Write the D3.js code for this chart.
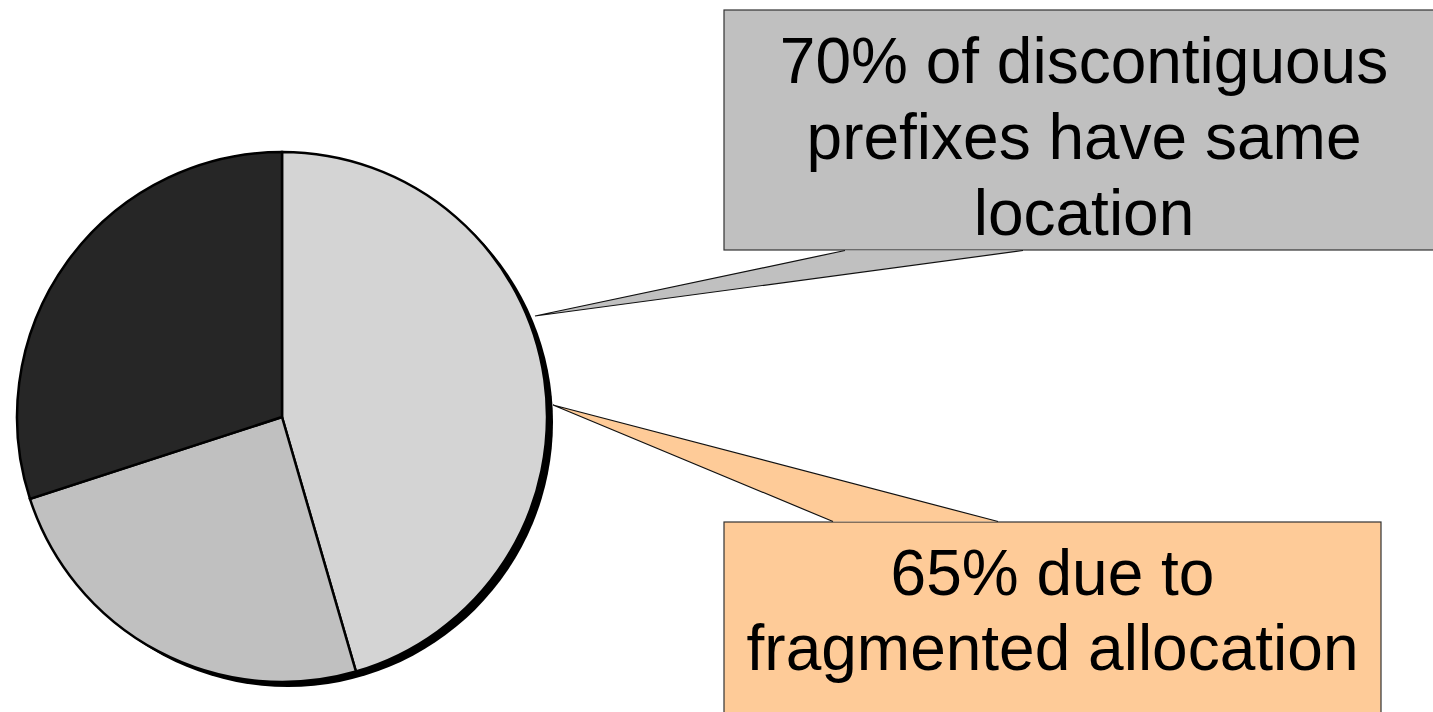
<!DOCTYPE html>
<html>
<head>
<meta charset="utf-8">
<script src="https://cdn.jsdelivr.net/npm/d3@7"></script>
<style>
  body { margin: 0; background: #fff; }
  svg { display: block; }
</style>
</head>
<body>
<script>
// slice data (clockwise from 12 o'clock)
var sliceNames = ["same location", "other", "different location"];
var sliceValues = [45.5, 24.5, 30];
var sliceColors = ["#d4d4d4", "#c0c0c0", "#262626"];

// callout texts
var topLines = ["70% of discontiguous", "prefixes have same", "location"];
var bottomLines = ["65% due to", "fragmented allocation"];

var w = 1433, h = 712;
var cx = 282, cy = 417, r = 265;

var svg = d3.select("body").append("svg")
    .attr("width", w)
    .attr("height", h);

// shadow behind the pie
svg.append("circle")
    .attr("cx", cx + 6)
    .attr("cy", cy + 5)
    .attr("r", r)
    .attr("fill", "black");

var pie = d3.pie().sort(null).value(function(d) { return d; });
var arc = d3.arc().innerRadius(0).outerRadius(r);

var g = svg.append("g").attr("transform", "translate(" + cx + "," + cy + ")");
g.selectAll("path")
    .data(pie(sliceValues))
    .enter().append("path")
    .attr("d", arc)
    .attr("fill", function(d, i) { return sliceColors[i]; })
    .attr("stroke", "black")
    .attr("stroke-width", 2.5);

// callout box with a pointer
function callout(x, y, bw, bh, fill, ptr, lines, baseline, lh) {
  svg.append("rect")
      .attr("x", x).attr("y", y)
      .attr("width", bw).attr("height", bh)
      .attr("fill", fill)
      .attr("stroke", "#333")
      .attr("stroke-width", 1.2);
  // pointer fill covers the box edge between its base points
  svg.append("path")
      .attr("d", "M" + ptr[0] + "L" + ptr[1] + "L" + ptr[2] + "Z")
      .attr("fill", fill);
  svg.append("path")
      .attr("d", "M" + ptr[0] + "L" + ptr[1] + "L" + ptr[2])
      .attr("fill", "none")
      .attr("stroke", "#111")
      .attr("stroke-width", 1.2);
  var t = svg.append("text")
      .attr("font-family", "Liberation Sans, Arial, sans-serif")
      .attr("font-size", 64)
      .attr("text-anchor", "middle")
      .attr("fill", "black");
  lines.forEach(function(s, i) {
    t.append("tspan")
        .attr("x", x + bw / 2)
        .attr("y", baseline + i * lh)
        .text(s);
  });
}

callout(724, 10, 720, 240, "#c0c0c0",
  [[845, 250.5], [535, 316], [1023, 250.5]],
  topLines, 83, 76);

callout(724, 522, 657, 200, "#fecb98",
  [[833, 521.5], [553, 405], [998, 521.5]],
  bottomLines, 595, 75);
</script>
</body>
</html>
